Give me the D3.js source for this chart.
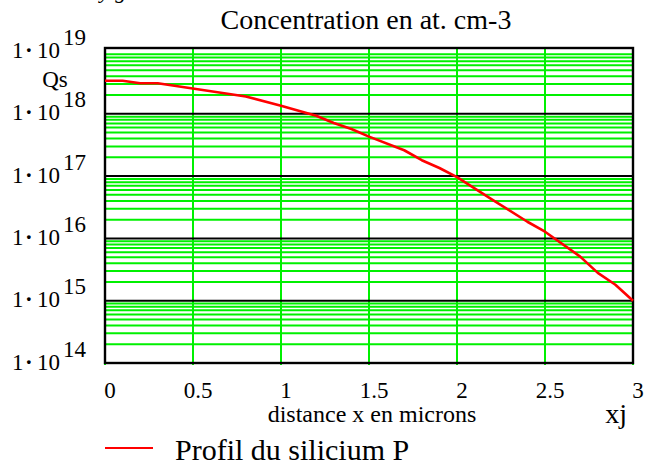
<!DOCTYPE html>
<html>
<head>
<meta charset="utf-8">
<script src="https://cdn.jsdelivr.net/npm/d3@7"></script>
<style>
    html, body { margin: 0; padding: 0; background: #fff; }
    svg text { font-family: "Liberation Serif", "Times New Roman", serif; fill: #000; }
</style>
</head>
<body>
<div id="graph"></div>
<script>
'use strict';

// Data Inputs
const distance      = [0, 0.1, 0.2, 0.3, 0.8, 1.0, 1.2, 1.3, 1.4, 1.5, 1.7, 1.8, 1.9, 2.0, 2.2, 2.4, 2.5, 2.7, 2.8, 2.9, 3.0];
const concentration = [3.4e18, 3.4e18, 3.1e18, 3.1e18, 1.9e18, 1.35e18, 9.3e17, 7.1e17, 5.7e17, 4.3e17,
                       2.6e17, 1.8e17, 1.35e17, 9.6e16, 4.2e16, 1.85e16, 1.28e16, 5.1e15, 2.8e15, 1.8e15, 1.0e15];

const xTicks   = [0, 0.5, 1, 1.5, 2, 2.5, 3];
const xLabels  = ['0', '0.5', '1', '1.5', '2', '2.5', '3'];
const decades  = [1e14, 1e15, 1e16, 1e17, 1e18, 1e19];
const exponent = ['14', '15', '16', '17', '18', '19'];

const title      = 'Concentration en at. cm-3',
      xTitle     = 'distance x en microns',
      yName      = 'Qs',
      xName      = 'xj',
      legendText = 'Profil du silicium P';


// Layout
const w = 646,
      h = 466;

const plotLeft   = 105,
      plotRight  = 633,
      plotTop    = 48,
      plotBottom = 363;

const vis = d3.select('#graph')
          .append('svg')
          .attr('width', w)
          .attr('height', h);

const x = d3.scaleLinear().domain([0, 3]).range([plotLeft, plotRight]);
const y = d3.scaleLog().domain([1e14, 1e19]).range([plotBottom, 51.5]);

// minor grid: 2..9 in each decade
const minors = [];
decades.slice(0, -1).forEach(function(d) {
    for (let k = 2; k <= 9; k++) minors.push(d * k);
});

vis.selectAll('line.minor')
    .data(minors)
    .enter()
    .append('line')
    .attr('x1', plotLeft)
    .attr('x2', plotRight)
    .attr('y1', function(d) { return y(d); })
    .attr('y2', function(d) { return y(d); })
    .style('stroke', '#00f000')
    .style('stroke-width', 2);

vis.selectAll('line.vgrid')
    .data(xTicks)
    .enter()
    .append('line')
    .attr('x1', function(d) { return x(d); })
    .attr('x2', function(d) { return x(d); })
    .attr('y1', plotTop)
    .attr('y2', plotBottom + 2)
    .style('stroke', '#00f000')
    .style('stroke-width', 2);

vis.selectAll('line.major')
    .data(decades.slice(1, -1))
    .enter()
    .append('line')
    .attr('x1', plotLeft)
    .attr('x2', plotRight)
    .attr('y1', function(d) { return y(d); })
    .attr('y2', function(d) { return y(d); })
    .style('stroke', '#000')
    .style('stroke-width', 2);

// frame
vis.append('rect')
    .attr('x', plotLeft)
    .attr('y', plotTop)
    .attr('width', plotRight - plotLeft)
    .attr('height', plotBottom - plotTop)
    .style('fill', 'none')
    .style('stroke', '#000')
    .style('stroke-width', 2.4);

// curve
const line = d3.line()
    .x(function(d, i) { return x(distance[i]); })
    .y(function(d) { return y(d); });

vis.append('path')
    .datum(concentration)
    .attr('d', line)
    .style('fill', 'none')
    .style('stroke', '#ff0000')
    .style('stroke-width', 2.6)
    .style('stroke-linejoin', 'round');

// x tick labels
vis.selectAll('text.xtick')
    .data(xTicks)
    .enter()
    .append('text')
    .attr('x', function(d) { return x(d) + 5; })
    .attr('y', 398)
    .attr('text-anchor', 'middle')
    .style('font-size', '23px')
    .text(function(d, i) { return xLabels[i]; });

// y tick labels: 1·10^n
const ylab = vis.selectAll('text.ytick')
          .data(decades)
          .enter()
          .append('text')
          .attr('y', function(d) { return y(d) + 6.5; })
          .style('font-size', '23px');

ylab.append('tspan').attr('x', 12).text('1');
ylab.append('tspan').attr('x', 25).style('font-weight', 'bold').text('\u00b7');
ylab.append('tspan').attr('x', 37).text('10');
ylab.append('tspan')
    .attr('x', 63)
    .attr('dy', -13)
    .text(function(d, i) { return exponent[i]; });

// titles
vis.append('text')
    .attr('x', 366)
    .attr('y', 29)
    .attr('text-anchor', 'middle')
    .style('font-size', '28px')
    .text(title);

vis.append('text')
    .attr('x', 100)
    .attr('y', -2)
    .style('font-size', '22px')
    .style('font-style', 'italic')
    .text('y  g');

vis.append('text')
    .attr('x', 55)
    .attr('y', 87)
    .attr('text-anchor', 'middle')
    .style('font-size', '23px')
    .text(yName);

vis.append('text')
    .attr('x', (plotLeft + plotRight) / 2 + 3)
    .attr('y', 422)
    .attr('text-anchor', 'middle')
    .style('font-size', '24px')
    .text(xTitle);

vis.append('text')
    .attr('x', 627)
    .attr('y', 423)
    .attr('text-anchor', 'end')
    .style('font-size', '28px')
    .text(xName);

// legend
vis.append('line')
    .attr('x1', 105)
    .attr('x2', 153)
    .attr('y1', 448)
    .attr('y2', 448)
    .style('stroke', '#ff0000')
    .style('stroke-width', 2);

vis.append('text')
    .attr('x', 175)
    .attr('y', 460)
    .style('font-size', '30px')
    .text(legendText);
</script>
</body>
</html>
